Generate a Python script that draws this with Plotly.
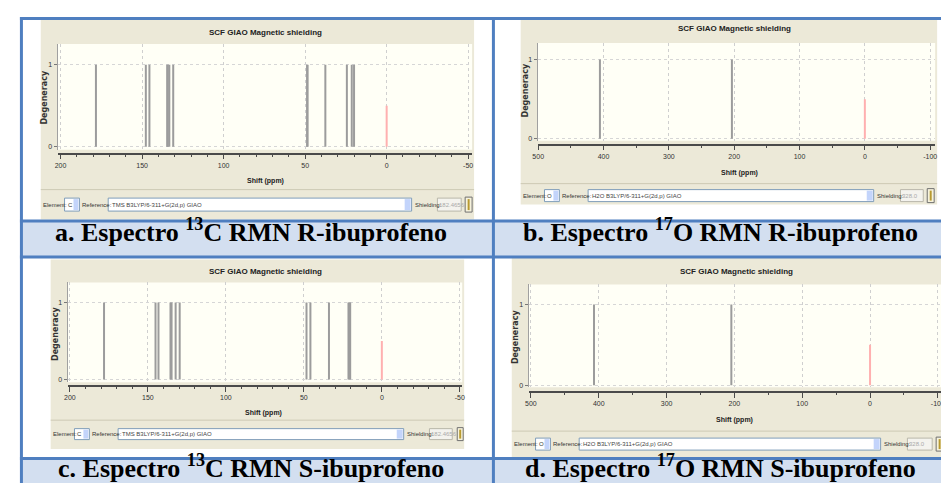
import plotly.graph_objects as go

W, H = 949, 483

# ---------------- data ----------------
# 13C shifts (ppm), R-ibuprofen
c13_shift_R = [178.3, 147.7, 145.5, 134.6, 134.2, 133.3, 130.9, 48.8, 48.5, 37.6, 24.4, 21.4, 20.0]
c13_deg_R = [1, 1, 1, 1, 1, 1, 1, 1, 1, 1, 1, 1, 1]
# 17O shifts (ppm), R-ibuprofen
o17_shift_R = [405.5, 203.5]
o17_deg_R = [1, 1]
# 13C shifts (ppm), S-ibuprofen
c13_shift_S = [178.1, 145.1, 143.2, 135.5, 134.8, 132.2, 129.6, 48.3, 45.8, 33.9, 21.4, 20.8, 20.3]
c13_deg_S = [1, 1, 1, 1, 1, 1, 1, 1, 1, 1, 1, 1, 1]
# 17O shifts (ppm), S-ibuprofen
o17_shift_S = [407.0, 204.5]
o17_deg_S = [1, 1]
# reference marker (red)
ref_shift = [0.0]
ref_height = [0.5]

c13_ticks = [200, 150, 100, 50, 0, -50]
o17_ticks = [500, 400, 300, 200, 100, 0, -100]
deg_ticks = [0, 1]

captions = [
    "a. Espectro <sup>13</sup>C RMN R-ibuprofeno",
    "b. Espectro <sup>17</sup>O RMN R-ibuprofeno",
    "c. Espectro <sup>13</sup>C RMN S-ibuprofeno",
    "d. Espectro <sup>17</sup>O RMN S-ibuprofeno",
]
panel_title = "SCF GIAO Magnetic shielding"
x_title = "Shift (ppm)"
y_title = "Degeneracy"
elements = ["C", "O", "C", "O"]
references = ["TMS B3LYP/6-311+G(2d,p) GIAO", "H2O B3LYP/6-311+G(2d,p) GIAO",
              "TMS B3LYP/6-311+G(2d,p) GIAO", "H2O B3LYP/6-311+G(2d,p) GIAO"]
shieldings = ["182.4656", "328.0", "182.4656", "328.0"]


def fx(p):
    return p / W


def fy(p):
    return 1 - p / H


# layout geometry (pixels)
panels = [
    dict(shifts=c13_shift_R, deg=c13_deg_R, ticks=c13_ticks, minor=10,
         screen=(28, 12, 465, 212), cream=(45, 36, 463, 142), xr=[201.8, -52.4], yr=[-0.037, 1.256],
         axis_y=146, title=(255, 25), xlab=(255, 173), ylab=(32, 90), sep=182,
         ctrl=dict(y=197, h=13, el=29, elbox=(52, 67), ref=69, inp=(96, 402), sh=404, shbox=(428, 452), btn=(456, 463))),
    dict(shifts=o17_shift_R, deg=o17_deg_R, ticks=o17_ticks, minor=50,
         screen=(512, 12, 932, 197), cream=(529, 35, 930, 133), xr=[501.0, -107.6], yr=[-0.025, 1.21],
         axis_y=137, title=(728, 21), xlab=(733, 165), ylab=(517, 83), sep=176,
         ctrl=dict(y=188, h=12, el=513, elbox=(536, 551), ref=553, inp=(580, 868), sh=870, shbox=(895, 918), btn=(922, 929))),
    dict(shifts=c13_shift_S, deg=c13_deg_S, ticks=c13_ticks, minor=10,
         screen=(38, 252, 455, 442), cream=(55, 275, 453, 375), xr=[201.5, -51.5], yr=[-0.035, 1.259],
         axis_y=379, title=(255, 264), xlab=(253, 406), ylab=(43, 327), sep=413,
         ctrl=dict(y=427, h=11, el=39, elbox=(62, 77), ref=79, inp=(106, 394), sh=396, shbox=(420, 443), btn=(448, 454))),
    dict(shifts=o17_shift_S, deg=o17_deg_S, ticks=o17_ticks, minor=50,
         screen=(503, 250, 941, 450), cream=(520, 277, 938, 380), xr=[503.4, -107.7], yr=[-0.025, 1.247],
         axis_y=385, title=(730, 264), xlab=(728, 413), ylab=(507, 330), sep=424,
         ctrl=dict(y=437, h=12, el=504, elbox=(527, 542), ref=544, inp=(571, 875), sh=877, shbox=(902, 927), btn=(931, 938))),
]

BEIGE = "#ece9d8"
CREAM = "#fffff6"
BLUE = "#4f7fc0"
CAPFILL = "#d3dff0"
SMALL = "Liberation Sans Narrow, Liberation Sans, Arial"

fig = go.Figure()
shapes = []
annotations = []
layout_axes = {}


def rect(x0, y0, x1, y1, fill, line=None, lw=1):
    shapes.append(dict(type="rect", xref="paper", yref="paper", layer="below",
                       x0=fx(x0), x1=fx(x1), y0=fy(y1), y1=fy(y0), fillcolor=fill,
                       line=dict(color=line if line else fill, width=lw if line else 0)))


def hline(x0, x1, y, color, w, layer="above"):
    shapes.append(dict(type="line", xref="paper", yref="paper", layer=layer,
                       x0=fx(x0), x1=fx(x1), y0=fy(y), y1=fy(y), line=dict(color=color, width=w)))


def vline(x, y0, y1, color, w):
    shapes.append(dict(type="line", xref="paper", yref="paper", layer="above",
                       x0=fx(x), x1=fx(x), y0=fy(y0), y1=fy(y1), line=dict(color=color, width=w)))


def text(x, y, s, size, color="#333", bold=False, xanchor="center", family="Liberation Sans", angle=0):
    annotations.append(dict(x=fx(x), y=fy(y), xref="paper", yref="paper", showarrow=False,
                            text=("<b>%s</b>" % s) if bold else s, xanchor=xanchor, yanchor="middle",
                            textangle=angle, borderpad=0,
                            font=dict(size=size, color=color, family=family)))


# caption rows
rect(8, 213, 946, 250, CAPFILL)
rect(8, 452, 946, 483, CAPFILL)

for i, p in enumerate(panels):
    s = "" if i == 0 else str(i + 1)
    sx0, sy0, sx1, sy1 = p["screen"]
    cx0, cy0, cx1, cy1 = p["cream"]
    rect(sx0, sy0, sx1, sy1, BEIGE)
    rect(cx0, cy0, cx1, cy1, CREAM)
    hline(sx0, sx1, p["sep"], "#cdc9b4", 1, layer="below")

    # spectrum lines
    xs, ys = [], []
    for v, d in zip(p["shifts"], p["deg"]):
        xs += [v, v, None]
        ys += [0, d, None]
    fig.add_trace(go.Scatter(x=xs, y=ys, mode="lines", line=dict(color="#9c9c9c", width=2),
                             xaxis="x" + s, yaxis="y" + s, showlegend=False, hoverinfo="skip"))
    rx, ry = [], []
    for v, d in zip(ref_shift, ref_height):
        rx += [v, v, None]
        ry += [0, d, None]
    fig.add_trace(go.Scatter(x=rx, y=ry, mode="lines", line=dict(color="#ffb0b0", width=2),
                             xaxis="x" + s, yaxis="y" + s, showlegend=False, hoverinfo="skip"))

    layout_axes["xaxis" + s] = dict(
        domain=[fx(cx0), fx(cx1)], range=p["xr"], anchor="free", position=fy(p["axis_y"]),
        showline=True, linecolor="#4a4a4a", linewidth=1.5, ticks="outside", ticklen=5,
        tickcolor="#4a4a4a", tickwidth=1, tickmode="array", tickvals=p["ticks"],
        ticktext=[str(t) for t in p["ticks"]], tickfont=dict(size=7, color="#333", family="Liberation Sans"),
        showgrid=True, gridcolor="#cfcfcf", griddash="dot", gridwidth=1, zeroline=False,
        minor=dict(ticks="outside", ticklen=2.5, tickcolor="#4a4a4a", dtick=p["minor"], tick0=0, showgrid=False),
        fixedrange=True)
    layout_axes["yaxis" + s] = dict(
        domain=[fy(cy1), fy(cy0)], range=p["yr"], anchor="x" + s, showline=True, linecolor="#a0a0a0",
        linewidth=1, ticks="outside", ticklen=3, tickcolor="#777", tickmode="array", tickvals=deg_ticks,
        ticktext=[str(t) for t in deg_ticks], tickfont=dict(size=7, color="#333", family="Liberation Sans"),
        showgrid=True, gridcolor="#d6d6d6", griddash="dot", zeroline=False, fixedrange=True)

    text(p["title"][0], p["title"][1], panel_title, 8, "#222", bold=True)
    text(p["xlab"][0], p["xlab"][1], x_title, 7, "#222", bold=True)
    text(p["ylab"][0], p["ylab"][1], y_title, 8, "#333", bold=True, family="DejaVu Sans", angle=-90)

    # control bar
    c = p["ctrl"]
    yc, hh = c["y"], c["h"]
    t0, t1 = yc - hh / 2, yc + hh / 2
    text(c["el"], yc, "Element:", 6, "#333", xanchor="left", family=SMALL)
    rect(c["elbox"][0], t0, c["elbox"][1], t1, "white", "#7f9db9")
    rect(c["elbox"][1] - 6, t0 + 1, c["elbox"][1] - 1, t1 - 1, "#c3d4fb")
    text(c["elbox"][0] + 2, yc, elements[i], 6, "#333", xanchor="left", family=SMALL)
    text(c["ref"], yc, "Reference:", 6, "#333", xanchor="left", family=SMALL)
    rect(c["inp"][0], t0, c["inp"][1], t1, "white", "#7f9db9")
    rect(c["inp"][1] - 7, t0 + 1, c["inp"][1] - 1, t1 - 1, "#c3d4fb")
    text(c["inp"][0] + 3, yc, references[i], 6, "#444", xanchor="left", family=SMALL)
    text(c["sh"], yc, "Shielding:", 6, "#333", xanchor="left", family=SMALL)
    rect(c["shbox"][0], t0, c["shbox"][1], t1, "#f4f3ee", "#b9b7aa")
    text(c["shbox"][0] + 1, yc, shieldings[i], 6, "#aaa", xanchor="left", family=SMALL)
    rect(c["btn"][0], t0 - 1, c["btn"][1], t1 + 1, "#f6f2dc", "#707070")
    rect((c["btn"][0] + c["btn"][1]) / 2 - 1, t0 + 1, (c["btn"][0] + c["btn"][1]) / 2 + 1, t1 - 1, "#b89a30")

# captions
cap_pos = [(240, 223), (714, 223), (240, 459), (714, 459)]
for (cx, cy), cap in zip(cap_pos, captions):
    text(cx, cy, cap, 26, "#000", bold=True, family="Liberation Serif")

# blue table borders
hline(7, 949, 10.5, BLUE, 3)
hline(7, 949, 213.5, BLUE, 3)
hline(7, 949, 249.5, BLUE, 3)
hline(7, 949, 451.5, BLUE, 3)
vline(8.5, 9, 483, BLUE, 3)
vline(484.5, 9, 483, BLUE, 3)
vline(946.5, 9, 483, BLUE, 2)

fig.update_layout(width=W, height=H, margin=dict(l=0, r=0, t=0, b=0),
                  paper_bgcolor="white", plot_bgcolor="rgba(0,0,0,0)",
                  shapes=shapes, annotations=annotations, showlegend=False, **layout_axes)

fig.write_html("out.html")
